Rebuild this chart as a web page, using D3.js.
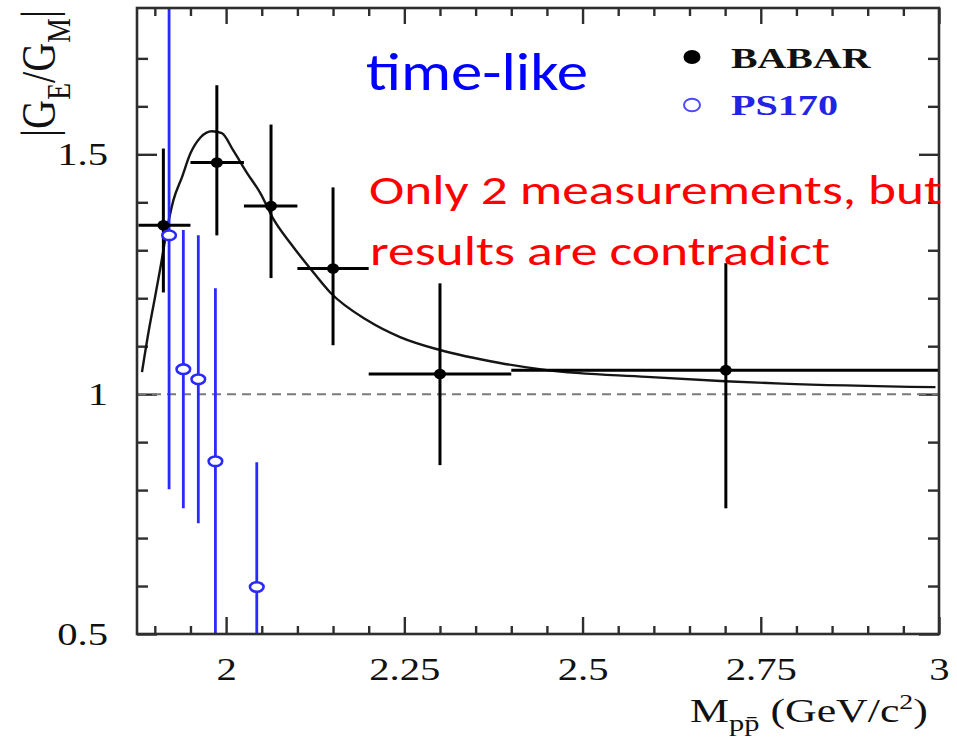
<!DOCTYPE html>
<html>
<head>
<meta charset="utf-8">
<script src="https://cdn.jsdelivr.net/npm/d3@7"></script>
<style>
  html, body { margin: 0; padding: 0; background: #fff; }
  svg { display: block; }
</style>
</head>
<body>
<svg id="chart" width="957" height="754"></svg>
<script>
// |GE/GM| from BABAR (filled dots): bin centre, bin edges, value, error band
const babarMass  = [1.912, 1.987, 2.063, 2.150, 2.300, 2.701];
const babarLow   = [1.877, 1.950, 2.025, 2.100, 2.200, 2.400];
const babarHigh  = [1.950, 2.025, 2.100, 2.200, 2.400, 3.000];
const babarRatio = [1.352, 1.483, 1.392, 1.262, 1.042, 1.050];
const babarUpper = [1.512, 1.644, 1.562, 1.431, 1.231, 1.273];
const babarLower = [1.212, 1.331, 1.242, 1.102, 0.852, 0.762];

// |GE/GM| from PS170 (open circles)
const ps170Mass  = [1.920, 1.940, 1.961, 1.985, 2.043];
const ps170Ratio = [1.331, 1.052, 1.031, 0.860, 0.598];
const ps170Upper = [1.900, 1.342, 1.331, 1.221, 0.858];
const ps170Lower = [0.802, 0.762, 0.731, 0.400, 0.300];

// Fitted curve through the BABAR points
const fitMass  = [1.882, 1.891, 1.900, 1.908, 1.916, 1.926, 1.938, 1.950, 1.964, 1.980,
                  1.994, 2.010, 2.029, 2.048, 2.066, 2.090, 2.118, 2.146, 2.198, 2.244,
                  2.300, 2.384, 2.450, 2.590, 2.700, 2.780, 2.995];
const fitRatio = [1.046, 1.128, 1.200, 1.265, 1.335, 1.404, 1.452, 1.502, 1.535, 1.548,
                  1.544, 1.508, 1.462, 1.419, 1.366, 1.315, 1.262, 1.212, 1.154, 1.119,
                  1.092, 1.065, 1.050, 1.036, 1.027, 1.022, 1.0146];

// Axis ticks
const xMajor = [2, 2.25, 2.5, 2.75, 3];
const xMajorLabels = ["2", "2.25", "2.5", "2.75", "3"];
const yMajor = [0.5, 1, 1.5];
const yMajorLabels = ["0.5", "1", "1.5"];
const refRatio = 1;

// Legend entries
const legendNames = ["BABAR", "PS170"];

// ---------------------------------------------------------------
const svg = d3.select("#chart");
const plot = { left: 137, right: 939, top: 8, bottom: 634 };
const x = d3.scaleLinear().domain([1.875, 3.0]).range([plot.left, plot.right]);
const y = d3.scaleLinear().domain([0.5, 1.805]).range([plot.bottom, plot.top]);

const axisColor = "#2e2e2e";
const serif = "'Liberation Serif', 'Times New Roman', serif";
const sans = "Carlito, Calibri, Lato, sans-serif";
const babarColor = "#000";
const psColor = "#2a2aff";
const stretch = 1.27;   // the serif lettering is drawn slightly wide

const round2 = v => Math.round(v * 100) / 100;
const xMinor = d3.range(1.9, 3.0, 0.05).map(round2).filter(v => v < 3 && !xMajor.includes(v));
const yMinor = d3.range(0.6, 1.8, 0.1).map(round2).filter(v => v < 1.8 && !yMajor.includes(v));

function styleAxis(g) {
  g.select(".domain").remove();
  g.selectAll(".tick line").attr("stroke", axisColor).attr("stroke-width", 2.4);
}

// bottom axis with labels
svg.append("g").attr("transform", `translate(0,${plot.bottom})`)
  .call(d3.axisBottom(x).tickValues(xMinor).tickSize(-8).tickFormat(""))
  .call(styleAxis);
const gxMajor = svg.append("g").attr("transform", `translate(0,${plot.bottom})`)
  .call(d3.axisBottom(x).tickValues(xMajor).tickSize(-17).tickFormat((d, i) => xMajorLabels[i]))
  .call(styleAxis);
gxMajor.selectAll(".tick text")
  .attr("y", 46).attr("dy", null)
  .attr("transform", `scale(${stretch},1)`)
  .style("font-family", serif).style("font-size", "32px").attr("fill", "#111");

// top axis (ticks only)
svg.append("g").attr("transform", `translate(0,${plot.top})`)
  .call(d3.axisTop(x).tickValues(xMinor).tickSize(-8).tickFormat(""))
  .call(styleAxis);
svg.append("g").attr("transform", `translate(0,${plot.top})`)
  .call(d3.axisTop(x).tickValues(xMajor).tickSize(-16).tickFormat(""))
  .call(styleAxis);

// left axis with labels
svg.append("g").attr("transform", `translate(${plot.left},0)`)
  .call(d3.axisLeft(y).tickValues(yMinor).tickSize(-11).tickFormat(""))
  .call(styleAxis);
const gyMajor = svg.append("g").attr("transform", `translate(${plot.left},0)`)
  .call(d3.axisLeft(y).tickValues(yMajor).tickSize(-20).tickFormat((d, i) => yMajorLabels[i]))
  .call(styleAxis);
gyMajor.selectAll(".tick text")
  .attr("x", -29 / stretch).attr("dy", "0.33em")
  .attr("transform", `scale(${stretch},1)`)
  .style("font-family", serif).style("font-size", "32px").attr("fill", "#111");

// right axis (ticks only)
svg.append("g").attr("transform", `translate(${plot.right},0)`)
  .call(d3.axisRight(y).tickValues(yMinor).tickSize(-11).tickFormat(""))
  .call(styleAxis);
svg.append("g").attr("transform", `translate(${plot.right},0)`)
  .call(d3.axisRight(y).tickValues(yMajor).tickSize(-20).tickFormat(""))
  .call(styleAxis);

// clip region for the data
svg.append("clipPath").attr("id", "plotClip")
  .append("rect")
  .attr("x", plot.left).attr("y", plot.top)
  .attr("width", plot.right - plot.left).attr("height", plot.bottom - plot.top);
const data = svg.append("g").attr("clip-path", "url(#plotClip)");

// reference line |GE/GM| = 1
data.append("line")
  .attr("x1", plot.left).attr("x2", plot.right)
  .attr("y1", y(refRatio)).attr("y2", y(refRatio))
  .attr("stroke", "#7a7a7a").attr("stroke-width", 2)
  .attr("stroke-dasharray", "9,6");

// fit curve
const fitPts = fitMass.map((m, i) => [m, fitRatio[i]]);
data.append("path")
  .datum(fitPts)
  .attr("fill", "none")
  .attr("stroke", "#151515")
  .attr("stroke-width", 2.4)
  .attr("d", d3.line().x(d => x(d[0])).y(d => y(d[1])).curve(d3.curveMonotoneX));

// PS170 error bars and markers
const ps = ps170Mass.map((m, i) => ({ m, r: ps170Ratio[i], up: ps170Upper[i], dn: ps170Lower[i] }));
data.selectAll(".ps-err").data(ps).join("line")
  .attr("class", "ps-err")
  .attr("x1", d => x(d.m)).attr("x2", d => x(d.m))
  .attr("y1", d => y(d.up)).attr("y2", d => y(d.dn))
  .attr("stroke", psColor).attr("stroke-width", 2.8);

// BABAR error bars
const bb = babarMass.map((m, i) => ({
  m, lo: babarLow[i], hi: babarHigh[i], r: babarRatio[i], up: babarUpper[i], dn: babarLower[i]
}));
data.selectAll(".bb-v").data(bb).join("line")
  .attr("class", "bb-v")
  .attr("x1", d => x(d.m)).attr("x2", d => x(d.m))
  .attr("y1", d => y(d.up)).attr("y2", d => y(d.dn))
  .attr("stroke", babarColor).attr("stroke-width", 3);
data.selectAll(".bb-h").data(bb).join("line")
  .attr("class", "bb-h")
  .attr("x1", d => x(d.lo)).attr("x2", d => x(d.hi))
  .attr("y1", d => y(d.r)).attr("y2", d => y(d.r))
  .attr("stroke", babarColor).attr("stroke-width", 3);
data.selectAll(".bb-pt").data(bb).join("ellipse")
  .attr("class", "bb-pt")
  .attr("cx", d => x(d.m)).attr("cy", d => y(d.r))
  .attr("rx", 6).attr("ry", 5.3)
  .attr("fill", babarColor);

data.selectAll(".ps-pt").data(ps).join("ellipse")
  .attr("class", "ps-pt")
  .attr("cx", d => x(d.m)).attr("cy", d => y(d.r))
  .attr("rx", 6.8).attr("ry", 4.8)
  .attr("fill", "#fff").attr("stroke", psColor).attr("stroke-width", 2.6);

// frame
svg.append("rect")
  .attr("x", plot.left).attr("y", plot.top)
  .attr("width", plot.right - plot.left).attr("height", plot.bottom - plot.top)
  .attr("fill", "none").attr("stroke", axisColor).attr("stroke-width", 2.6);

// text helper: place text (start-anchored) and stretch it to a given width
function fitted(parent, x0, y0, width, build) {
  const g = parent.append("g").attr("transform", `translate(${x0},${y0})`);
  const t = g.append("text").attr("x", 0).attr("y", 0);
  build(t);
  const w = t.node().getBBox().width;
  g.attr("transform", `translate(${x0},${y0}) scale(${width / w},1)`);
  return g;
}

// legend
svg.append("ellipse").attr("cx", 692).attr("cy", 57).attr("rx", 8.5).attr("ry", 7)
  .attr("fill", babarColor);
svg.append("ellipse").attr("cx", 692).attr("cy", 105).attr("rx", 8).attr("ry", 6.3)
  .attr("fill", "none").attr("stroke", "#4b4bff").attr("stroke-width", 2);
fitted(svg, 731, 68, 140, t => t.text(legendNames[0])
  .style("font-family", serif).style("font-size", "30px").style("font-weight", "bold")
  .attr("fill", "#111"));
fitted(svg, 731, 115, 107, t => t.text(legendNames[1])
  .style("font-family", serif).style("font-size", "30px").style("font-weight", "bold")
  .attr("fill", "#2323e6"));

// annotations
fitted(svg, 366, 90, 222, t => t.text("time-like")
  .style("font-family", sans).style("font-size", "54px").attr("fill", "#0000ff"));
fitted(svg, 369, 204, 573, t => t.text("Only 2 measurements, but")
  .style("font-family", sans).style("font-size", "42px").attr("fill", "#ff0000"));
fitted(svg, 370, 265, 460, t => t.text("results are contradict")
  .style("font-family", sans).style("font-size", "42px").attr("fill", "#ff0000"));

// x-axis title: M_{p pbar} (GeV/c^2)
fitted(svg, 690, 722, 238, t => {
  t.style("font-family", serif).attr("fill", "#111").style("font-size", "33px");
  t.append("tspan").text("M");
  t.append("tspan").text("pp\u0304").style("font-size", "23px").attr("dy", 9);
  t.append("tspan").text(" (GeV/c").attr("dy", -9);
  t.append("tspan").text("2").style("font-size", "21px").attr("dy", -13);
  t.append("tspan").text(")").attr("dy", 13);
});

// y-axis title: |G_E / G_M|, reading upward
const yTitle = svg.append("g");
const yt = yTitle.append("text").attr("x", 0).attr("y", 0)
  .style("font-family", serif).style("font-size", "35px").attr("fill", "#111");
yt.append("tspan").text("|G");
yt.append("tspan").text("E").style("font-size", "24px").attr("dy", 11);
yt.append("tspan").text("/G").attr("dy", -11);
yt.append("tspan").text("M").style("font-size", "24px").attr("dy", 11);
yt.append("tspan").text("|").attr("dy", -11);
const ytLen = yt.node().getBBox().width;
yTitle.attr("transform", `translate(55,137) scale(1.4,1) rotate(-90) scale(${127 / ytLen},1)`);
</script>
</body>
</html>
